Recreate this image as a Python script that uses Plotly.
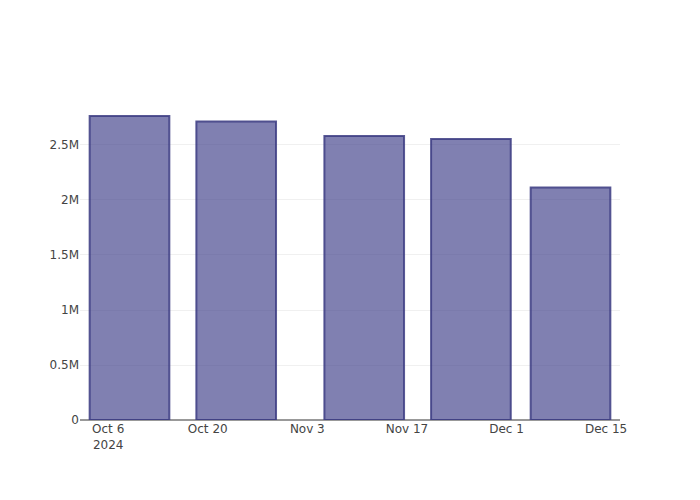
import plotly.graph_objects as go

dates = ["2024-10-09", "2024-10-24", "2024-11-11", "2024-11-26", "2024-12-10"]
values = [2764000, 2714000, 2582000, 2555000, 2114000]

fig = go.Figure(
    go.Bar(
        x=dates,
        y=values,
        marker=dict(
            color="rgba(60,60,135,0.65)",
            line=dict(color="rgba(60,60,130,0.85)", width=2),
        ),
    )
)

fig.update_layout(
    template="none",
    width=700,
    height=500,
    plot_bgcolor="white",
    paper_bgcolor="white",
    font=dict(family="DejaVu Sans, Open Sans, sans-serif", color="#444", size=12),
    margin=dict(l=80, r=80, t=100, b=80),
    showlegend=False,
)
fig.update_xaxes(
    type="date",
    showgrid=False,
    showline=False,
    zeroline=False,
    ticks="",
    dtick=14 * 24 * 3600 * 1000,
    tick0="2024-10-06",
    range=["2024-10-02 01:00", "2024-12-16 23:00"],
)
fig.update_yaxes(
    showgrid=True,
    gridcolor="#f0f0f0",
    zeroline=True,
    zerolinecolor="#999",
    zerolinewidth=2,
    showline=False,
    ticks="",
    range=[0, 2909000],
)

fig.write_html(
    "out.html",
    config={"displayModeBar": False},
    post_script="document.body.style.margin='0';",
)
